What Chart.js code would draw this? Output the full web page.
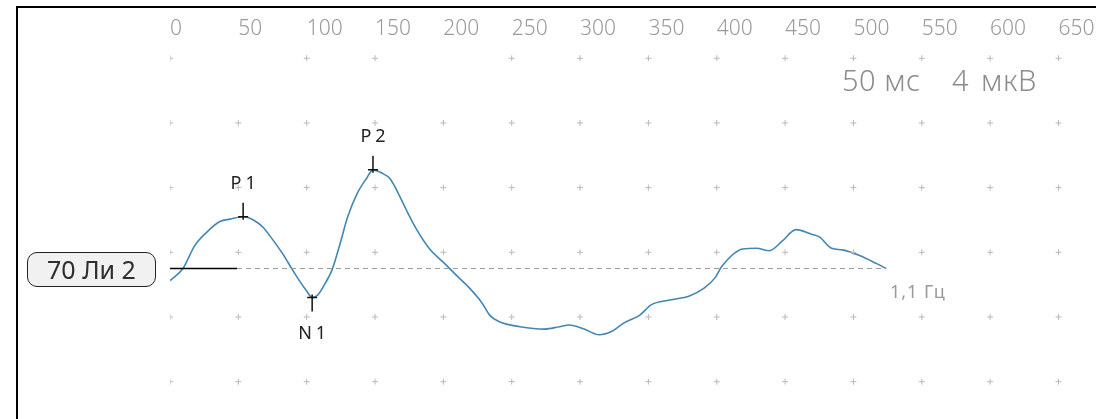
<!DOCTYPE html>
<html>
<head>
<meta charset="utf-8">
<script src="https://cdn.jsdelivr.net/npm/chart.js@4.4.0/dist/chart.umd.min.js"></script>
<style>
  html, body { margin: 0; padding: 0; background: #fff; }
  #wrap { position: relative; width: 1115px; height: 419px; overflow: hidden; font-family: "Noto Sans", sans-serif; }
  #janela { position: absolute; left: 0; top: 0; width: 1094px; height: 419px; overflow: hidden; }
  #moldura { position: absolute; left: 16px; top: 6px; width: 1078px; height: 420px; border-left: 2px solid #000; border-top: 2px solid #000; }
  #canal { position: absolute; left: 27px; top: 252px; width: 127px; height: 33px; border: 1.5px solid #222; border-radius: 10px; background: #f1f1f1;
           font-size: 25px; line-height: 33px; text-align: center; color: #2e2e2e; }
  .escala { position: absolute; top: 61px; font-size: 29px; font-weight: 300; color: #8c8c8c; line-height: 38px; letter-spacing: 0.5px; }
  #filtro { position: absolute; left: 890px; top: 279px; font-size: 18px; color: #9a9a9a; letter-spacing: 1px; }
</style>
</head>
<body>
<div id="wrap">
  <div id="janela"><canvas id="myChart" width="1099" height="419"></canvas></div>
  <div id="moldura"></div>
  <div id="canal">70 Ли 2</div>
  <div class="escala" style="left: 842px">50 мс</div>
  <div class="escala" style="left: 952px; word-spacing: 4px">4 мкВ</div>
  <div id="filtro">1,1 Гц</div>
</div>
<script>
// eixo do tempo (ms) e grade
const rotulosTempo = [0, 50, 100, 150, 200, 250, 300, 350, 400, 450, 500, 550, 600, 650]
const gradeUv = [13, 9, 5, 1, -3, -7]
// cruzes da grade que faltam na imagem
const gradeAusente = ['50|13', '200|13']

// curva: tempo em ms, amplitude em mkV
const tempoMs = [0, 9.5, 18, 27, 36.5, 44, 53.5, 61, 68, 75, 82.5, 89, 95, 100, 104, 108, 113, 118.5, 124, 130,
  137, 144, 148.5, 155, 161, 167, 173, 180.5, 190, 201, 210.5, 219, 228, 234, 241, 256, 274, 285, 292, 303,
  314, 323, 332.5, 343.5, 352, 365.5, 380, 391, 399, 403.5, 419, 429, 438.5, 448, 458, 470, 475, 484, 492, 504.5,
  517, 524]
const amplitudeUv = [-0.75, 0, 1.4, 2.25, 2.9, 3.05, 3.2, 3.0, 2.55, 1.8, 0.9, 0, -0.8, -1.4, -1.8, -1.65, -1.0, -0.1, 1.4, 3.2,
  4.65, 5.6, 6.1, 5.9, 5.55, 4.65, 3.6, 2.4, 1.2, 0.3, -0.5, -1.2, -2.1, -2.9, -3.3, -3.6, -3.75, -3.6, -3.5, -3.75,
  -4.1, -3.9, -3.35, -2.9, -2.25, -1.95, -1.7, -1.2, -0.55, 0.1, 1.2, 1.25, 1.1, 1.7, 2.4, 2.1, 1.95, 1.25, 1.15, 0.8,
  0.3, 0]

// picos marcados
const picosNome = ['P1', 'N1', 'P2']
const picosMs = [53.5, 104, 148.5]
const picosUv = [3.2, -1.8, 6.1]

// linha de base: trecho sólido e trecho tracejado
const baseSolida = [0, 49]
const baseTracejada = [49, 524]

let curva = tempoMs.map((t, i) => ({ x: t, y: amplitudeUv[i] }))
let pontosGrade = []
for (const t of rotulosTempo) {
  for (const v of gradeUv) {
    if (!gradeAusente.includes(t + '|' + v)) pontosGrade.push({ x: t, y: v })
  }
}

// desenha as cruzes dos picos e os nomes
const marcadores = {
  id: 'marcadores',
  afterDatasetsDraw(chart) {
    const ctx = chart.ctx
    const x = chart.scales.x
    const y = chart.scales.y
    ctx.save()
    ctx.strokeStyle = '#111'
    ctx.fillStyle = '#222'
    ctx.lineWidth = 1.5
    ctx.font = '18px "Noto Sans"'
    ctx.letterSpacing = '4px'
    ctx.textAlign = 'center'
    ctx.textBaseline = 'middle'
    picosNome.forEach((nome, i) => {
      const px = x.getPixelForValue(picosMs[i])
      const py = y.getPixelForValue(picosUv[i])
      const cima = nome[0] === 'P'
      ctx.beginPath()
      if (cima) {
        ctx.moveTo(px, py + 3)
        ctx.lineTo(px, py - 14)
      } else {
        ctx.moveTo(px, py - 3)
        ctx.lineTo(px, py + 14)
      }
      ctx.moveTo(px - 5, py)
      ctx.lineTo(px + 5, py)
      ctx.stroke()
      ctx.fillText(nome, px + 2, cima ? py - 33 : py + 36)
    })
    ctx.restore()
  }
}

const ctx = document.getElementById('myChart')
new Chart(ctx, {
  type: 'scatter',
  data: {
    datasets: [
      {
        data: pontosGrade,
        pointStyle: 'cross',
        pointRadius: 3,
        borderColor: '#b9b9b9',
        borderWidth: 1,
        showLine: false
      },
      {
        data: baseTracejada.map(t => ({ x: t, y: 0 })),
        showLine: true,
        borderColor: '#9a9a9a',
        borderWidth: 1,
        borderDash: [5, 4],
        pointRadius: 0
      },
      {
        data: baseSolida.map(t => ({ x: t, y: 0 })),
        showLine: true,
        borderColor: '#000',
        borderWidth: 1.5,
        pointRadius: 0
      },
      {
        data: curva,
        showLine: true,
        borderColor: '#4287b3',
        borderWidth: 1.6,
        pointRadius: 0,
        cubicInterpolationMode: 'monotone'
      }
    ]
  },
  options: {
    responsive: false,
    animation: false,
    devicePixelRatio: 1,
    layout: { padding: { left: 170, right: 4, top: 13, bottom: 0 } },
    plugins: { legend: { display: false }, tooltip: { enabled: false } },
    scales: {
      x: {
        type: 'linear',
        position: 'top',
        min: 0,
        max: 676,
        afterBuildTicks: (scale) => { scale.ticks = rotulosTempo.map(v => ({ value: v })) },
        grid: { display: false, drawTicks: false },
        border: { display: false },
        ticks: {
          align: 'start',
          autoSkip: false,
          maxRotation: 0,
          padding: 3,
          color: '#9a9a9a',
          font: { family: 'Noto Sans', size: 21, weight: '300' }
        }
      },
      y: {
        display: false,
        min: -9,
        max: 13.87
      }
    }
  },
  plugins: [marcadores]
})
</script>
</body>
</html>
